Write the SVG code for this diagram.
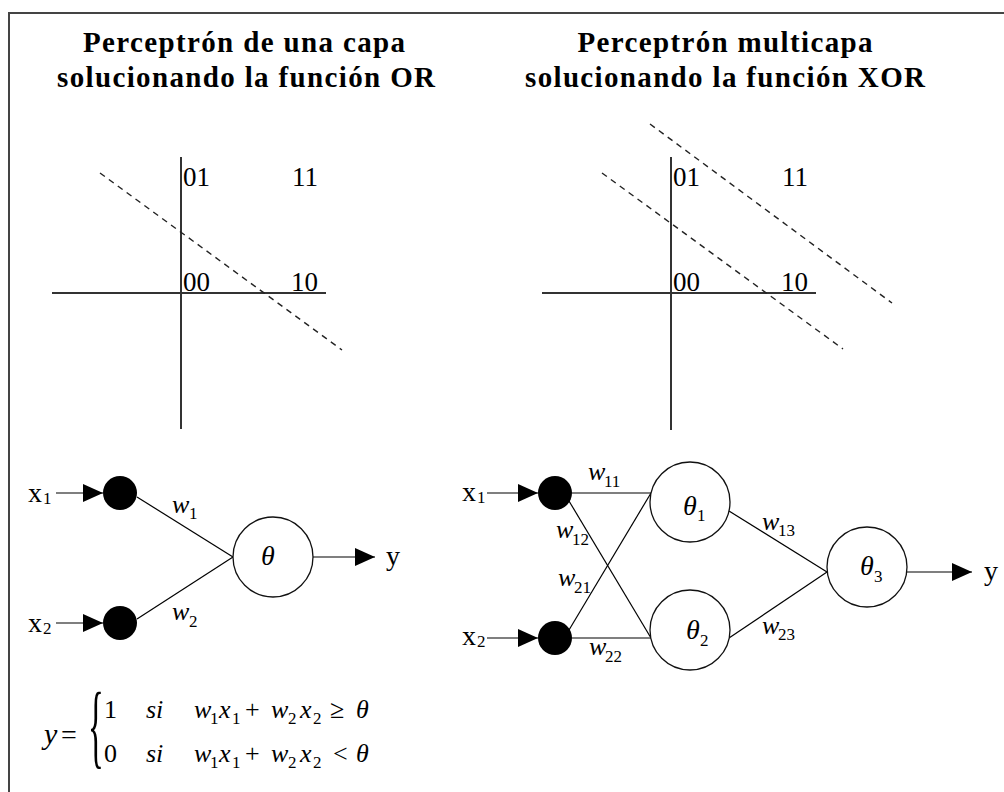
<svg xmlns="http://www.w3.org/2000/svg" width="1004" height="792" viewBox="0 0 1004 792">
<style>
.t{font-family:"Liberation Serif","Times New Roman",serif;fill:#000}
.title{font-size:29px;font-weight:bold}
.num{font-size:27px}
.lbl{font-size:26px}
.it{font-style:italic}
.sub{font-size:17px}
.axis{stroke:#333;stroke-width:2;fill:none}
.dash{stroke:#222;stroke-width:1.4;stroke-dasharray:6 5;fill:none}
.ln{stroke:#000;stroke-width:1.2;fill:none}
.neuron{fill:#fff;stroke:#111;stroke-width:1.3}
.inp{fill:#000}
</style>
<defs>
<marker id="ah" markerUnits="userSpaceOnUse" markerWidth="20" markerHeight="20" viewBox="0 0 20 20" refX="20" refY="10" orient="auto">
<path d="M0,1 L20,10 L0,19 Z" fill="#000"/>
</marker>
</defs>
<rect x="0" y="0" width="1004" height="792" fill="#fff"/>
<rect x="9" y="13" width="1010" height="800" fill="none" stroke="#444" stroke-width="2"/>

<g id="titles">
<text class="t title" x="244" y="52" text-anchor="middle" textLength="322" lengthAdjust="spacing">Perceptrón de una capa</text>
<text class="t title" x="246" y="87" text-anchor="middle" textLength="378" lengthAdjust="spacing">solucionando la función OR</text>
<text class="t title" x="725" y="52" text-anchor="middle" textLength="295" lengthAdjust="spacing">Perceptrón multicapa</text>
<text class="t title" x="725" y="87" text-anchor="middle" textLength="400" lengthAdjust="spacing">solucionando la función XOR</text>
</g>

<g id="plot-or">
<line class="axis" x1="181" y1="157" x2="181" y2="429"/>
<line class="axis" x1="52" y1="293" x2="326" y2="293"/>
<line class="dash" x1="100" y1="173" x2="342" y2="350"/>
<text class="t num" x="183" y="186">01</text>
<text class="t num" x="292" y="186">11</text>
<text class="t num" x="183" y="291">00</text>
<text class="t num" x="291" y="291">10</text>
</g>

<g id="plot-xor">
<line class="axis" x1="671" y1="157" x2="671" y2="430"/>
<line class="axis" x1="542" y1="293" x2="816" y2="293"/>
<line class="dash" x1="602" y1="173" x2="843" y2="349"/>
<line class="dash" x1="650" y1="124" x2="892" y2="303"/>
<text class="t num" x="673" y="186">01</text>
<text class="t num" x="782" y="186">11</text>
<text class="t num" x="673" y="291">00</text>
<text class="t num" x="781" y="291">10</text>
</g>

<g id="connectors">
<line class="ln" x1="56" y1="493" x2="103" y2="493" marker-end="url(#ah)"/>
<line class="ln" x1="56" y1="623" x2="103" y2="623" marker-end="url(#ah)"/>
<line class="ln" x1="137" y1="497" x2="233" y2="557"/>
<line class="ln" x1="137" y1="619" x2="233" y2="557"/>
<line class="ln" x1="313" y1="557" x2="375" y2="557" marker-end="url(#ah)"/>

<line class="ln" x1="487" y1="493" x2="538" y2="493" marker-end="url(#ah)"/>
<line class="ln" x1="487" y1="638" x2="538" y2="638" marker-end="url(#ah)"/>
<line class="ln" x1="572" y1="493" x2="651" y2="493"/>
<line class="ln" x1="572" y1="638" x2="651" y2="638"/>
<line class="ln" x1="569" y1="501" x2="651" y2="638"/>
<line class="ln" x1="569" y1="630" x2="651" y2="493"/>
<line class="ln" x1="729" y1="511" x2="827" y2="572"/>
<line class="ln" x1="729" y1="638" x2="827" y2="572"/>
<line class="ln" x1="907" y1="572" x2="972" y2="572" marker-end="url(#ah)"/>
</g>

<g id="in-x1-or">
<circle class="inp" cx="120" cy="493" r="17"/>
<text class="t" font-size="28" x="28" y="502">x</text><text class="t sub" x="43" y="504">1</text>
</g>
<g id="in-x2-or">
<circle class="inp" cx="120" cy="623" r="17"/>
<text class="t" font-size="28" x="28" y="632">x</text><text class="t sub" x="43" y="634">2</text>
</g>
<g id="neuron-or">
<circle class="neuron" cx="273" cy="557" r="40"/>
<text class="t it" font-size="28" x="268" y="565" text-anchor="middle">θ</text>
</g>
<g id="out-or">
<text class="t" font-size="28" x="386" y="565">y</text>
</g>
<g id="weights-or">
<text class="t it lbl" x="172" y="513">w</text><text class="t sub" x="189" y="519">1</text>
<text class="t it lbl" x="172" y="620">w</text><text class="t sub" x="189" y="627">2</text>
</g>

<g id="in-x1-xor">
<circle class="inp" cx="555" cy="493" r="17"/>
<text class="t" font-size="28" x="462" y="501">x</text><text class="t sub" x="477" y="503">1</text>
</g>
<g id="in-x2-xor">
<circle class="inp" cx="555" cy="638" r="17"/>
<text class="t" font-size="28" x="462" y="645">x</text><text class="t sub" x="477" y="647">2</text>
</g>
<g id="neuron-1">
<circle class="neuron" cx="690" cy="502" r="40"/>
<text class="t it" font-size="28" x="683" y="515">θ</text><text class="t sub" x="697" y="521">1</text>
</g>
<g id="neuron-2">
<circle class="neuron" cx="690" cy="630" r="40"/>
<text class="t it" font-size="28" x="686" y="639">θ</text><text class="t sub" x="700" y="646">2</text>
</g>
<g id="neuron-3">
<circle class="neuron" cx="867" cy="567" r="40"/>
<text class="t it" font-size="28" x="860" y="575">θ</text><text class="t sub" x="874" y="582">3</text>
</g>
<g id="out-xor">
<text class="t" font-size="28" x="984" y="580">y</text>
</g>
<g id="weights-xor">
<text class="t it lbl" x="588" y="480">w</text><text class="t sub" x="604" y="487">11</text>
<text class="t it lbl" x="556" y="538">w</text><text class="t sub" x="572" y="545">12</text>
<text class="t it lbl" x="558" y="586">w</text><text class="t sub" x="574" y="593">21</text>
<text class="t it lbl" x="589" y="655">w</text><text class="t sub" x="605" y="662">22</text>
<text class="t it lbl" x="762" y="530">w</text><text class="t sub" x="778" y="536">13</text>
<text class="t it lbl" x="762" y="634">w</text><text class="t sub" x="778" y="640">23</text>
</g>

<g id="formula">
<text class="t it" font-size="30" x="44" y="744">y</text>
<text class="t" font-size="28" x="61" y="744">=</text>
<text class="t" font-size="94" transform="translate(88,757) scale(0.35,1)" x="0" y="0">{</text>
<text class="t lbl" x="104" y="718">1</text>
<text class="t it lbl" x="146" y="718">si</text>
<text class="t it lbl" x="194" y="718">w</text><text class="t sub" x="210" y="724">1</text>
<text class="t it lbl" x="219" y="718">x</text><text class="t sub" x="232" y="724">1</text>
<text class="t lbl" x="245" y="718">+</text>
<text class="t it lbl" x="271" y="718">w</text><text class="t sub" x="288" y="724">2</text>
<text class="t it lbl" x="300" y="718">x</text><text class="t sub" x="313" y="724">2</text>
<text class="t lbl" x="330" y="718">≥</text>
<text class="t it lbl" x="356" y="718">θ</text>
<text class="t lbl" x="104" y="762">0</text>
<text class="t it lbl" x="146" y="762">si</text>
<text class="t it lbl" x="194" y="762">w</text><text class="t sub" x="210" y="768">1</text>
<text class="t it lbl" x="219" y="762">x</text><text class="t sub" x="232" y="768">1</text>
<text class="t lbl" x="245" y="762">+</text>
<text class="t it lbl" x="271" y="762">w</text><text class="t sub" x="288" y="768">2</text>
<text class="t it lbl" x="300" y="762">x</text><text class="t sub" x="313" y="768">2</text>
<text class="t lbl" x="333" y="762">&lt;</text>
<text class="t it lbl" x="356" y="762">θ</text>
</g>
</svg>
